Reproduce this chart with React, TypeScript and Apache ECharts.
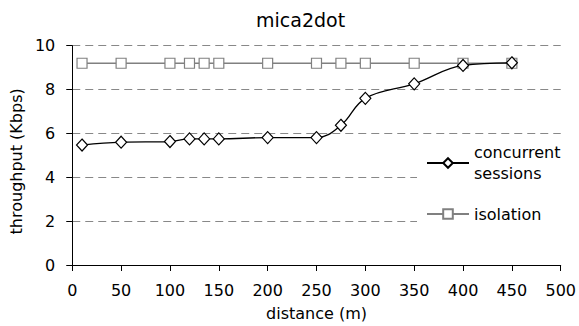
import React, { useEffect, useRef } from "react";
import * as echarts from "echarts";

const titleText = "mica2dot";
const xName = "distance (m)";
const yName = "throughput (Kbps)";
const distances = [10, 50, 100, 120, 135, 150, 200, 250, 275, 300, 350, 400, 450];
const concurrentName = "concurrent sessions";
const concurrentValues = [5.47, 5.6, 5.63, 5.75, 5.75, 5.75, 5.81, 5.81, 6.37, 7.6, 8.26, 9.1, 9.22];
const isolationName = "isolation";
const isolationValues = [9.2, 9.2, 9.2, 9.2, 9.2, 9.2, 9.2, 9.2, 9.2, 9.2, 9.2, 9.2, 9.2];

const FONT = "DejaVu Sans";

export default function App() {
  const ref = useRef<HTMLDivElement>(null);
  useEffect(() => {
    if (!ref.current) return;
    const chart = echarts.init(ref.current, null, { renderer: "svg" });
    const pair = (vals: number[]) => distances.map((d, i) => [d, vals[i]]);
    chart.setOption({
      animation: false,
      backgroundColor: "#fff",
      title: {
        text: titleText,
        left: 256,
        top: 10,
        padding: 0,
        textStyle: { fontFamily: FONT, fontSize: 19, fontWeight: "normal", color: "#000" },
      },
      grid: { left: 70.7, right: 16.5, top: 45.7, bottom: 60.7, containLabel: false },
      xAxis: {
        type: "value",
        min: 0,
        max: 500,
        interval: 50,
        name: xName,
        nameLocation: "middle",
        nameGap: 40,
        nameTextStyle: { fontFamily: FONT, fontSize: 16, color: "#000" },
        axisLine: { show: true, lineStyle: { color: "#000", width: 1 } },
        axisTick: { show: true, length: 6, lineStyle: { color: "#000" } },
        axisLabel: { margin: 17, fontFamily: FONT, fontSize: 16, color: "#000" },
        splitLine: { show: false },
      },
      yAxis: {
        type: "value",
        min: 0,
        max: 10,
        interval: 2,
        name: yName,
        nameLocation: "middle",
        nameGap: 40,
        nameRotate: 90,
        nameTextStyle: { fontFamily: FONT, fontSize: 16, color: "#000", padding: [0, 12, 0, 0] },
        axisLine: { show: true, lineStyle: { color: "#000", width: 1 } },
        axisTick: { show: true, length: 6, lineStyle: { color: "#000" } },
        axisLabel: { margin: 17, fontFamily: FONT, fontSize: 16, color: "#000" },
        splitLine: { show: true, lineStyle: { color: "#888", type: [8, 5], width: 1 } },
      },
      graphic: [
        {
          type: "rect",
          z: 1,
          shape: { x: 417, y: 142, width: 162, height: 88 },
          style: { fill: "#fff" },
        },
      ],
      legend: {
        orient: "vertical",
        left: 426,
        top: 131.5,
        padding: 0,
        itemGap: 9,
        itemWidth: 42,
        itemHeight: 12,
        textStyle: { fontFamily: FONT, fontSize: 16, color: "#000", lineHeight: 21 },
        formatter: (name: string) => (name === concurrentName ? "concurrent\nsessions" : name),
        data: [
          { name: concurrentName, textStyle: { padding: [21, 0, 0, 0] } },
          { name: isolationName },
        ],
      },
      series: [
        {
          name: isolationName,
          type: "line",
          data: pair(isolationValues),
          symbol: "rect",
          symbolSize: 10,
          z: 2,
          lineStyle: { color: "#808080", width: 1.5 },
          itemStyle: { color: "#fff", borderColor: "#808080", borderWidth: 1.2 },
        },
        {
          name: concurrentName,
          type: "line",
          data: pair(concurrentValues),
          smooth: 0.4,
          symbol: "diamond",
          symbolSize: [11, 12],
          z: 3,
          lineStyle: { color: "#000", width: 1.3 },
          itemStyle: { color: "#fff", borderColor: "#000", borderWidth: 1.2 },
        },
      ],
    });
    return () => chart.dispose();
  }, []);
  return (
    <div
      ref={ref}
      style={{ position: "absolute", left: 0, top: 0, width: 579, height: 326 }}
    />
  );
}
